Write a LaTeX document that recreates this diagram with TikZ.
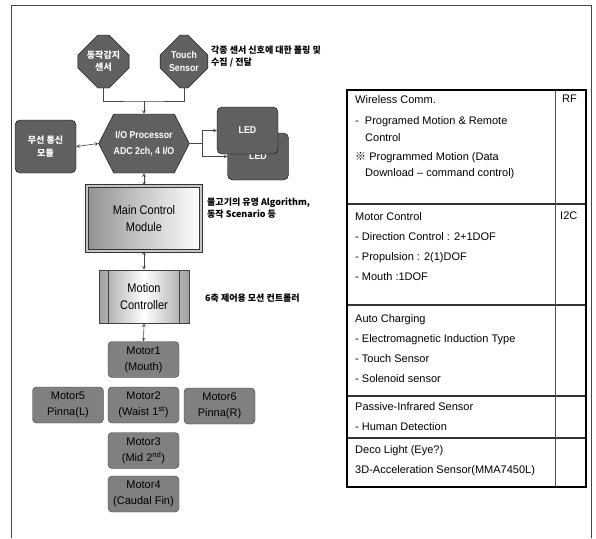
\documentclass[tikz,border=0pt]{standalone}
\usepackage{fontspec}
\usepackage{tikz}
\setmainfont{Liberation Sans}
\newfontfamily\narrowfont[FakeStretch=0.88]{Liberation Sans}
\newfontfamily\kofont{Noto Sans CJK KR}
\usetikzlibrary{shapes,shapes.geometric,shapes.misc,shapes.symbols,arrows,positioning,calc}
\definecolor{boxgray}{RGB}{96,96,96}
\definecolor{motorgray}{RGB}{128,128,128}
\definecolor{edgegray}{RGB}{60,60,60}
\definecolor{linegray}{RGB}{70,70,70}

\begin{document}
\begin{tikzpicture}[x=1pt, y=-1pt,
    sensor/.style={chamfered rectangle, chamfered rectangle xsep=9pt, chamfered rectangle ysep=11pt, draw=black, fill=boxgray, text=white, align=center, minimum width=45pt, minimum height=53pt, inner sep=0pt, font=\kofont\bfseries\fontsize{9}{12}\selectfont},
    darkbox/.style={rectangle, rounded corners=5pt, draw=black, fill=boxgray, text=white, align=center, inner sep=0pt},
    motor/.style={rectangle, rounded corners=4pt, draw=edgegray, fill=motorgray, text=black, align=center, minimum width=71pt, minimum height=36pt, inner sep=0pt, font=\fontsize{11}{16}\selectfont},
    note/.style={anchor=west, align=left, inner sep=0pt, font=\kofont\bfseries\fontsize{9}{12}\selectfont},
    cell/.style={anchor=north west, align=left, inner sep=0pt, font=\fontsize{11}{20}\selectfont},
    link/.style={linegray, line width=0.6pt},
    arrow/.style={->, >=stealth, linegray, line width=0.6pt},
    both/.style={<->, >=stealth, linegray, line width=0.6pt}
]
\useasboundingbox (0,0) rectangle (596,538);

% outer frame
\draw[linegray, line width=0.8pt] (11,538) -- (11,5) -- (591,5) -- (591,538);

% sensors on top
\node[sensor] (motion) at (103.5,61.5) {동작감지\\센서};
\node[sensor, font=\narrowfont\bfseries\fontsize{10}{13}\selectfont] (touch) at (184,61.5) {Touch\\Sensor};
\node[note] (pollnote) at (211,57) {각종 센서 신호에 대한 폴링 및\\수집 / 전달};

% I/O processor
\node[signal, signal to=west and east, signal pointer angle=126, draw=black, fill=boxgray, text=white, align=center, minimum width=88pt, minimum height=59pt, inner sep=0pt, font=\narrowfont\bfseries\fontsize{10}{16}\selectfont] (io) at (144,143.5) {I/O Processor\\ADC 2ch, 4 I/O};
\coordinate (join) at (144,101);
\draw[link] (motion.south) |- (join) -| (touch.south);
\draw[arrow] (join) -- (io.north);

\node[darkbox, minimum width=61pt, minimum height=53pt, font=\kofont\bfseries\fontsize{9}{13}\selectfont] (radio) at (45.5,146.5) {무선 통신\\모듈};
\draw[both] (radio.east) -- (io.west);

% LEDs
\node[darkbox, minimum width=61pt, minimum height=47pt, font=\narrowfont\bfseries\fontsize{10}{12}\selectfont] (led2) at (258,156.5) {LED};
\node[darkbox, minimum width=61pt, minimum height=47pt, font=\narrowfont\bfseries\fontsize{10}{12}\selectfont] (led1) at (247.5,130.5) {LED};
\draw[arrow] (io.east) -- ++(13,0) |- (led1.west);
\draw[arrow] (io.east) -- ++(13,0) |- (led2.west);

% main control
\node[rectangle, draw=gray!40!black, line width=1pt, double=gray!45, double distance=2pt, left color=gray!85, right color=white, minimum width=114pt, minimum height=65pt, align=center, font=\narrowfont\fontsize{12.5}{17}\selectfont] (main) at (144,218.5) {Main Control\\Module};
\node[note] (mainnote) at (207,208.5) {물고기의 유영 Algorithm,\\동작 Scenario 등};
\draw[both] (io.south) -- (main.north);

% motion controller
\node[rectangle, draw=gray!50!black, line width=0.8pt, left color=gray!75, right color=gray!75, middle color=white, minimum width=90pt, minimum height=53pt, align=center, font=\narrowfont\fontsize{12.5}{17}\selectfont] (ctrl) at (144,296.5) {Motion\\Controller};
\draw[gray!50!black, line width=0.8pt] ([xshift=10pt]ctrl.north west) -- ([xshift=10pt]ctrl.south west);
\draw[gray!50!black, line width=0.8pt] ([xshift=-10pt]ctrl.north east) -- ([xshift=-10pt]ctrl.south east);
\node[note] (ctrlnote) at (205,298) {6축 제어용 모션 컨트롤러};
\draw[both] (main.south) -- (ctrl.north);

% motors
\node[motor] (m1) at (143.5,359.5) {Motor1\\(Mouth)};
\node[motor] (m5) at (68,405) {Motor5\\Pinna(L)};
\node[motor] (m2) at (143.5,405) {Motor2\\(Waist 1\textsuperscript{st})};
\node[motor] (m6) at (219.5,406) {Motor6\\Pinna(R)};
\node[motor] (m3) at (143.5,450.5) {Motor3\\(Mid 2\textsuperscript{nd})};
\node[motor] (m4) at (143.5,494) {Motor4\\(Caudal Fin)};
\draw[both] (ctrl.south) -- (m1.north);

% function table
\draw[black!80, line width=1.2pt] (347,204) -- (586,204);
\draw[black!80, line width=1.2pt] (347,305) -- (586,305);
\draw[black!80, line width=1.2pt] (347,396) -- (586,396);
\draw[black!80, line width=1.2pt] (347,438) -- (586,438);
\draw[black!70, line width=0.6pt] (555,90) -- (555,487);
\draw[black, line width=1.8pt] (347,90) rectangle (586,487);

\node[cell] (wireless) at (355,95) {Wireless Comm.\\[1pt]
  -\ \ Programed Motion \& Remote\\[-3pt]
  \hspace*{10pt}Control\\[-1pt]
  {\kofont ※} Programmed Motion (Data\\[-4pt]
  \hspace*{10pt}Download -- command control)};
\node[cell] (motorctl) at (355,212) {Motor Control\\
  - Direction Control : 2+1DOF\\
  - Propulsion : 2(1)DOF\\
  - Mouth :1DOF};
\node[cell] (charging) at (355,314) {Auto Charging\\
  - Electromagnetic Induction Type\\
  - Touch Sensor\\
  - Solenoid sensor};
\node[cell] (pir) at (355,402) {Passive-Infrared Sensor\\
  - Human Detection};
\node[cell] (deco) at (355,445) {Deco Light (Eye?)\\
  3D-Acceleration Sensor(MMA7450L)};
\node[cell] (rf) at (562,95) {RF};
\node[cell] (i2c) at (560,212) {I2C};

\end{tikzpicture}
\end{document}
